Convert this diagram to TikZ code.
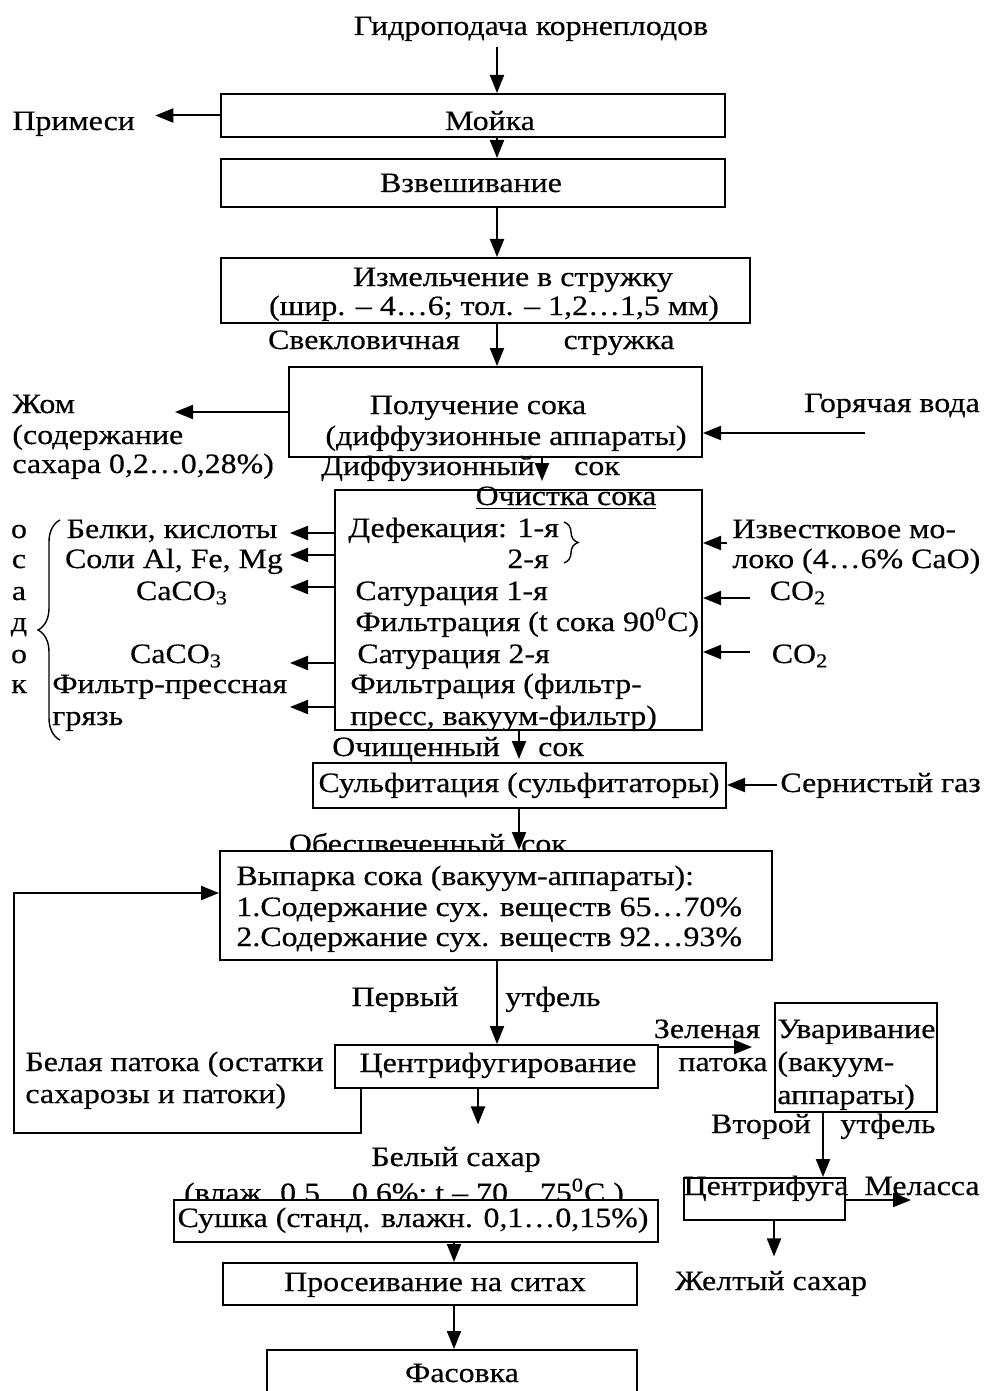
\documentclass[tikz,border=0pt]{standalone}
\usepackage{fontspec}
\setmainfont{Liberation Serif}[FakeStretch=1.14,FakeBold=0.4]
\usetikzlibrary{arrows.meta,decorations.pathreplacing}
\newcommand{\flowsz}{\fontsize{14pt}{15.5pt}\selectfont}

\begin{document}
\begin{tikzpicture}[x=0.5pt,y=-0.5pt,font=\flowsz,
    arr/.style={-{Triangle[length=9pt,width=7pt]},line width=1pt},
    brc/.style={decorate,line width=0.7pt}]

      \useasboundingbox (0,0) rectangle (987,1391);
      \clip (0,0) rectangle (987,1391);

      % columns of the arrows
      \coordinate (c1) at (497,0);
      \coordinate (c2) at (542,0);
      \coordinate (c3) at (519,0);
      \coordinate (c4) at (823,0);
      \coordinate (c5) at (774,0);
      \coordinate (c6) at (478,0);
      \coordinate (c7) at (454,0);

      % free ends of the side arrows
      \coordinate (zh) at (175,412);
      \coordinate (hw) at (865,433);
      \coordinate (o1) at (290,533);
      \coordinate (o2) at (290,555);
      \coordinate (o3) at (290,587);
      \coordinate (o4) at (290,663);
      \coordinate (o5) at (290,707);
      \coordinate (il) at (727,543);
      \coordinate (k1) at (750,598);
      \coordinate (k2) at (750,652);
      \coordinate (sgc) at (777,785);
      \coordinate (fb1) at (361,1133);
      \coordinate (fb2) at (14,1133);
      \coordinate (fb3) at (14,893);
      \coordinate (gr) at (753,1047);
      \coordinate (ml) at (911,1200);

      % texts cut by the box tops
      \begin{scope}[every node/.style={inner sep=0pt,anchor=base}]
        \node (obs1) at (397,853) {Обесцвеченный};
        \node (obs2) at (544,853) {сок};
        \node (vl) at (404,1202) {(влаж. 0,5…0,6\%; t – 70…75\textsuperscript{0}C )};
      \end{scope}

      \begin{scope}[every node/.style={draw,line width=1pt,fill=white,inner sep=0pt}]
        \node[minimum width=252pt,minimum height=21.5pt] (1) at (473,115.5) {};
        \node[minimum width=252pt,minimum height=24pt] (2) at (473,183) {};
        \node[minimum width=264.5pt,minimum height=32.5pt] (3) at (485.5,290.5) {};
        \node[minimum width=206.5pt,minimum height=45pt] (4) at (495.5,412) {};
        \node[minimum width=183.5pt,minimum height=120pt] (5) at (518.5,610) {};
        \node[minimum width=206.5pt,minimum height=22.5pt] (6) at (519.5,785.5) {};
        \node[minimum width=276pt,minimum height=54.5pt] (7) at (496,905.5) {};
        \node[minimum width=161.5pt,minimum height=21.5pt] (8) at (496.5,1066.5) {};
        \node[minimum width=81pt,minimum height=54.5pt] (9) at (856,1057.5) {};
        \node[minimum width=80.5pt,minimum height=21pt] (10) at (764.5,1199) {};
        \node[minimum width=242pt,minimum height=21pt] (11) at (416,1221) {};
        \node[minimum width=207pt,minimum height=21pt] (12) at (430,1284) {};
        \node[minimum width=185pt,minimum height=35pt] (13) at (452,1385) {};
      \end{scope}

      \begin{scope}[every node/.style={inner sep=0pt,anchor=base}]
        \node (g0) at (531,35) {Гидроподача корнеплодов};
        \node[anchor=base west] (prim) at (12,130) {Примеси};
        \node (m1) at (490,130) {Мойка};
        \node (v1) at (471,192) {Взвешивание};
        \node (iz1) at (513,286) {Измельчение в стружку};
        \node (iz2) at (494,315) {(шир. – 4…6; тол. – 1,2…1,5 мм)};
        \node (sv1) at (364,349) {Свекловичная};
        \node (sv2) at (619,349) {стружка};
        \node (ps1) at (478,414) {Получение сока};
        \node (ps2) at (506,445) {(диффузионные аппараты)};
        \node[anchor=base west] (zh1) at (12,413) {Жом};
        \node[anchor=base west] (zh2) at (12,444) {(содержание};
        \node[anchor=base west] (zh3) at (12,473) {сахара 0,2…0,28\%)};
        \node (gv) at (892,412) {Горячая вода};
        \node (ds1) at (428,475) {Диффузионный};
        \node (ds2) at (597,475) {сок};
        \node (oc0) at (566,505) {\underline{Очистка сока}};
        \node[anchor=base west] (oc1) at (348,537) {Дефекация: 1-я};
        \node[anchor=base west] (oc2) at (507,568) {2-я};
        \node[anchor=base west] (oc3) at (355,600) {Сатурация 1-я};
        \node[anchor=base west] (oc4) at (355,631) {Фильтрация (t сока 90\textsuperscript{0}C)};
        \node[anchor=base west] (oc5) at (357,663) {Сатурация 2-я};
        \node[anchor=base west] (oc6) at (350,693) {Фильтрация (фильтр-};
        \node[anchor=base west] (oc7) at (350,725) {пресс, вакуум-фильтр)};
        \node (os1) at (172,538) {Белки, кислоты};
        \node (os2) at (174,568) {Соли Al, Fe, Mg};
        \node (os3) at (182,600) {CaCO\textsubscript{3}};
        \node (os4) at (176,663) {CaCO\textsubscript{3}};
        \node[anchor=base west] (os5) at (52,693) {Фильтр-прессная};
        \node[anchor=base west] (os6) at (52,725) {грязь};
        \node (lo1) at (19,538) {о};
        \node (lo2) at (19,568) {с};
        \node (lo3) at (19,600) {а};
        \node (lo4) at (19,631) {д};
        \node (lo5) at (19,663) {о};
        \node (lo6) at (19,693) {к};
        \node[anchor=base west] (im1) at (732,538) {Известковое мо-};
        \node[anchor=base west] (im2) at (732,568) {локо (4…6\% CaO)};
        \node (co1) at (798,600) {CO\textsubscript{2}};
        \node (co2) at (800,663) {CO\textsubscript{2}};
        \node (och1) at (416,756) {Очищенный};
        \node (och2) at (561,756) {сок};
        \node (sf) at (519,792) {Сульфитация (сульфитаторы)};
        \node[anchor=base west] (sg) at (780,792) {Сернистый газ};
        \node[anchor=base west] (vp1) at (236,885) {Выпарка сока (вакуум-аппараты):};
        \node[anchor=base west] (vp2) at (236,916) {1.Содержание сух. веществ 65…70\%};
        \node[anchor=base west] (vp3) at (236,946) {2.Содержание сух. веществ 92…93\%};
        \node (pu1) at (405,1006) {Первый};
        \node (pu2) at (553,1006) {утфель};
        \node (cf) at (498,1072) {Центрифугирование};
        \node[anchor=base west] (bp1) at (25,1071) {Белая патока (остатки};
        \node[anchor=base west] (bp2) at (25,1103) {сахарозы и патоки)};
        \node (zp1) at (707,1038) {Зеленая};
        \node (zp2) at (723,1071) {патока};
        \node[anchor=base west] (uv1) at (777,1038) {Уваривание};
        \node[anchor=base west] (uv2) at (777,1071) {(вакуум-};
        \node[anchor=base west] (uv3) at (777,1104) {аппараты)};
        \node (vu1) at (761,1133) {Второй};
        \node (vu2) at (888,1133) {утфель};
        \node (cfg) at (766,1195) {Центрифуга};
        \node (mel) at (922,1195) {Меласса};
        \node (zs) at (771,1290) {Желтый сахар};
        \node (bs) at (456,1166) {Белый сахар};
        \node (su) at (413,1227) {Сушка (станд. влажн. 0,1…0,15\%)};
        \node (pr) at (435,1291) {Просеивание на ситах};
        \node (fa) at (462,1382) {Фасовка};
      \end{scope}

      % osadok brace and the defecation brace
      \draw[brc,decoration={brace,amplitude=11pt}] (60,740) -- (60,520);
      \draw[brc,decoration={brace,amplitude=7pt}] (564,522) -- (564,563);

      \begin{scope}[every edge/.style={draw,arr}]
        \path (g0.south -| c1) edge[shorten <=3pt] (1.north -| c1);
        \path (1.west) edge[shorten >=10pt] (1.west -| prim.east);
        \path (1.south -| c1) edge (2.north -| c1);
        \path (2.south -| c1) edge (3.north -| c1);
        \path (3.south -| c1) edge (4.north -| c1);
        \path (4.west) edge (zh);
        \path (hw) edge (hw -| 4.east);
        \path (4.south -| c2) edge[shorten >=4pt] (5.north -| c2);
        \path (o1 -| 5.west) edge (o1);
        \path (o2 -| 5.west) edge (o2);
        \path (o3 -| 5.west) edge (o3);
        \path (o4 -| 5.west) edge (o4);
        \path (o5 -| 5.west) edge (o5);
        \path (il) edge (il -| 5.east);
        \path (k1) edge (k1 -| 5.east);
        \path (k2) edge (k2 -| 5.east);
        \path (5.south -| c3) edge[shorten >=1.5pt] (6.north -| c3);
        \path (sgc) edge (sgc -| 6.east);
        \path (6.south -| c3) edge (7.north -| c3);
        \path (7.south -| c1) edge (8.north -| c1);
        \path (gr -| 8.east) edge[shorten >=11pt] (gr -| 9.west);
        \path (9.south -| c4) edge (10.north -| c4);
        \path (ml -| 10.east) edge (ml);
        \path (10.south -| c5) edge[shorten >=7pt] (zs.north -| c5);
        \path (8.south -| c6) edge[shorten >=11pt] (bs.north -| c6);
        \path (11.south -| c7) edge (12.north -| c7);
        \path (12.south -| c7) edge (13.north -| c7);
      \end{scope}

      % white molasses back to evaporation
      \draw[arr] (fb1 |- 8.south) -- (fb1) -- (fb2) -- (fb3) -- (fb3 -| 7.west);

    \end{tikzpicture}
\end{document}
